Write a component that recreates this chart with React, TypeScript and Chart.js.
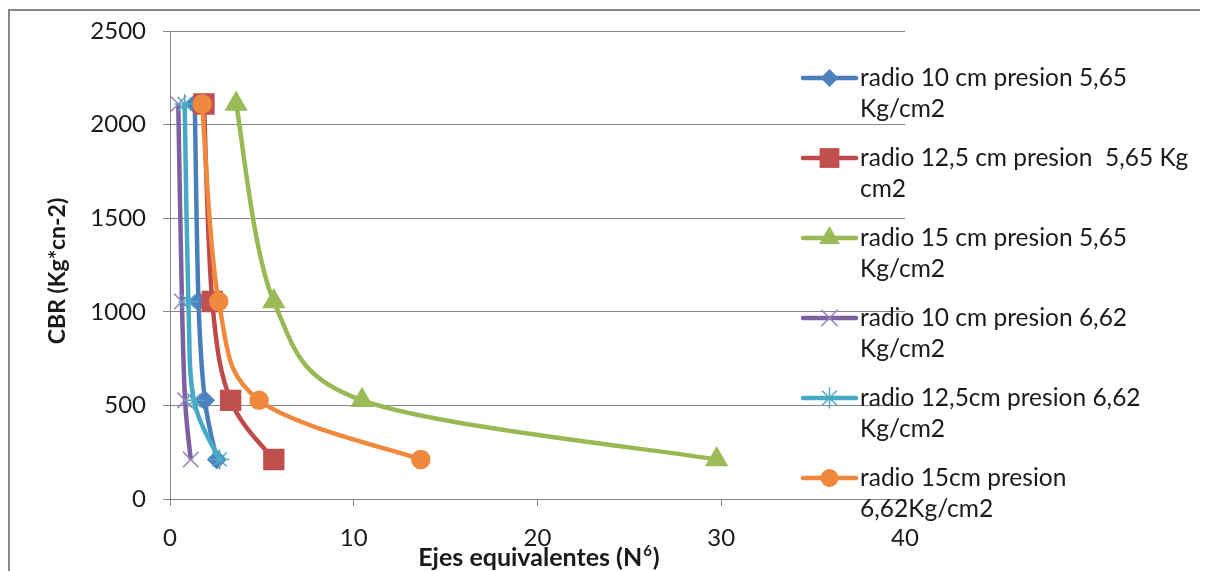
import { useEffect, useRef } from 'react';
import { Chart, registerables } from 'chart.js';

Chart.register(...registerables);

// CBR levels shared by every series (y values)
const cbrLevels = [2110, 1055, 527, 211];

// Equivalent axles (N^6) per series (x values)
const r10p565 = [1.35, 1.55, 1.9, 2.55];
const r125p565 = [1.85, 2.3, 3.3, 5.65];
const r15p565 = [3.6, 5.65, 10.45, 29.75];
const r10p662 = [0.45, 0.65, 0.82, 1.13];
const r125p662 = [0.8, 1.0, 1.3, 2.7];
const r15p662 = [1.75, 2.65, 4.85, 13.65];

const seriesLabels = [
  'radio 10 cm presion 5,65 Kg/cm2',
  'radio 12,5 cm presion  5,65 Kg cm2',
  'radio 15 cm presion 5,65 Kg/cm2',
  'radio 10 cm presion 6,62 Kg/cm2',
  'radio 12,5cm presion 6,62 Kg/cm2',
  'radio 15cm presion 6,62Kg/cm2',
];

// Legend text as it wraps in the legend box
const legendLines = [
  ['radio 10 cm presion 5,65', 'Kg/cm2'],
  ['radio 12,5 cm presion  5,65 Kg', 'cm2'],
  ['radio 15 cm presion 5,65', 'Kg/cm2'],
  ['radio 10 cm presion 6,62', 'Kg/cm2'],
  ['radio 12,5cm presion 6,62', 'Kg/cm2'],
  ['radio 15cm presion', '6,62Kg/cm2'],
];

const xTicks = [0, 10, 20, 30, 40];
const yTicks = [0, 500, 1000, 1500, 2000, 2500];

const xTitle = 'Ejes equivalentes (N';
const xTitleSup = '6';
const xTitleEnd = ')';
const yTitle = 'CBR (Kg*cn-2)';

const seriesX = [r10p565, r125p565, r15p565, r10p662, r125p662, r15p662];
const lineColors = ['#4A7EBB', '#BE4B48', '#98B954', '#7D60A0', '#46AAC5', '#F0893D'];
const markerColors = ['#4F81BD', '#C0504D', '#9BBB59', '#9580BA', '#4BACC6', '#F0893D'];
const markerStyles = ['rectRot', 'rect', 'triangle', 'crossRot', 'star', 'circle'];
const markerRadius = [9, 14, 12, 11, 10, 9];

const FONT = 'Lato, "DejaVu Sans", sans-serif';
const AXIS = '#868686';
const TEXT = '#1a1a1a';

const W = 1197;
const H = 580;

function drawMarker(ctx: CanvasRenderingContext2D, style: string, x: number, y: number, r: number, color: string) {
  ctx.save();
  ctx.fillStyle = color;
  ctx.strokeStyle = color;
  ctx.lineWidth = 1.5;
  ctx.beginPath();
  if (style === 'rectRot') {
    ctx.moveTo(x, y - r);
    ctx.lineTo(x + r, y);
    ctx.lineTo(x, y + r);
    ctx.lineTo(x - r, y);
    ctx.closePath();
    ctx.fill();
  } else if (style === 'rect') {
    const s = r * Math.SQRT1_2;
    ctx.rect(x - s, y - s, 2 * s, 2 * s);
    ctx.fill();
  } else if (style === 'triangle') {
    ctx.moveTo(x, y - r);
    ctx.lineTo(x + r * 0.866, y + r * 0.5);
    ctx.lineTo(x - r * 0.866, y + r * 0.5);
    ctx.closePath();
    ctx.fill();
  } else if (style === 'circle') {
    ctx.arc(x, y, r, 0, Math.PI * 2);
    ctx.fill();
  } else if (style === 'crossRot') {
    const d = r * Math.SQRT1_2;
    ctx.moveTo(x - d, y - d);
    ctx.lineTo(x + d, y + d);
    ctx.moveTo(x + d, y - d);
    ctx.lineTo(x - d, y + d);
    ctx.stroke();
  } else if (style === 'star') {
    const d = r * Math.SQRT1_2;
    ctx.moveTo(x - d, y - d);
    ctx.lineTo(x + d, y + d);
    ctx.moveTo(x + d, y - d);
    ctx.lineTo(x - d, y + d);
    ctx.moveTo(x, y - r);
    ctx.lineTo(x, y + r);
    ctx.stroke();
  }
  ctx.restore();
}

// Spreadsheet-style smoothing: Bezier handles of 1/6 of the neighbour chord,
// limited to half of the segment length.
const smoothLines = {
  id: 'smoothLines',
  beforeDatasetDraw(chart: any, args: any) {
    const meta = args.meta;
    const line = meta.dataset;
    if (!line || !line.updateControlPoints) return;
    line.updateControlPoints(chart.chartArea, meta.iScale.axis);
    const pts = meta.data;
    const n = pts.length;
    const dist = (a: any, b: any) => Math.hypot(b.x - a.x, b.y - a.y);
    for (let i = 0; i < n - 1; i++) {
      const p0 = pts[Math.max(i - 1, 0)];
      const p1 = pts[i];
      const p2 = pts[i + 1];
      const p3 = pts[Math.min(i + 2, n - 1)];
      const d12 = dist(p1, p2);
      const d02 = dist(p0, p2) || 1;
      const d13 = dist(p1, p3) || 1;
      const f1 = d02 / 6 < d12 / 2 ? 1 / 6 : d12 / (2 * d02);
      const f2 = d13 / 6 < d12 / 2 ? 1 / 6 : d12 / (2 * d13);
      p1.cp2x = p1.x + f1 * (p2.x - p0.x);
      p1.cp2y = p1.y + f1 * (p2.y - p0.y);
      p2.cp1x = p2.x - f2 * (p3.x - p1.x);
      p2.cp1y = p2.y - f2 * (p3.y - p1.y);
    }
    line._path = undefined;
  },
};

const overlay = {
  id: 'legendAndTitles',
  afterDraw(chart: any) {
    const ctx: CanvasRenderingContext2D = chart.ctx;
    ctx.save();

    // legend entries
    legendLines.forEach((lines, i) => {
      const y0 = 67 + i * 80;
      ctx.strokeStyle = lineColors[i];
      ctx.lineWidth = 4.5;
      ctx.lineCap = 'round';
      ctx.beginPath();
      ctx.moveTo(793, y0);
      ctx.lineTo(846, y0);
      ctx.stroke();
      drawMarker(ctx, markerStyles[i], 819.5, y0, markerRadius[i], markerColors[i]);
      ctx.fillStyle = TEXT;
      ctx.font = `24.5px ${FONT}`;
      ctx.textAlign = 'left';
      ctx.textBaseline = 'middle';
      lines.forEach((t, j) => ctx.fillText(t, 850, y0 + j * 31.5));
    });

    // y axis title
    ctx.save();
    ctx.translate(48, 260);
    ctx.rotate(-Math.PI / 2);
    ctx.font = `bold 23px ${FONT}`;
    ctx.textAlign = 'center';
    ctx.textBaseline = 'middle';
    ctx.fillStyle = TEXT;
    ctx.fillText(yTitle, 0, 0);
    ctx.restore();

    // x axis title with superscript
    const main = `bold 25px ${FONT}`;
    const sup = `bold 15px ${FONT}`;
    ctx.font = main;
    const w1 = ctx.measureText(xTitle).width;
    const w3 = ctx.measureText(xTitleEnd).width;
    ctx.font = sup;
    const w2 = ctx.measureText(xTitleSup).width;
    let x = 528 - (w1 + w2 + w3) / 2;
    const y = 547;
    ctx.textAlign = 'left';
    ctx.textBaseline = 'middle';
    ctx.fillStyle = TEXT;
    ctx.font = main;
    ctx.fillText(xTitle, x, y);
    x += w1;
    ctx.font = sup;
    ctx.fillText(xTitleSup, x + 1, y - 7);
    x += w2 + 2;
    ctx.font = main;
    ctx.fillText(xTitleEnd, x, y);

    ctx.restore();
  },
};

export default function App() {
  const ref = useRef<HTMLCanvasElement>(null);

  useEffect(() => {
    if (!ref.current) return;
    const datasets = seriesX.map((xs, i) => ({
      label: seriesLabels[i],
      data: xs.map((x, k) => ({ x, y: cbrLevels[k] })),
      borderColor: lineColors[i],
      backgroundColor: markerColors[i],
      borderWidth: 4.5,
      tension: 0.4,
      pointStyle: markerStyles[i] as any,
      pointRadius: markerRadius[i],
      pointBorderColor: markerColors[i],
      pointBackgroundColor: markerColors[i],
      pointBorderWidth: 1.5,
      order: 5 - i,
      showLine: true,
    }));

    const chart = new Chart(ref.current, {
      type: 'scatter',
      data: { datasets },
      options: {
        animation: false,
        responsive: false,
        devicePixelRatio: 1,
        layout: { padding: { left: 0, right: W - 895, top: 20, bottom: 0 } },
        plugins: { legend: { display: false }, tooltip: { enabled: false } },
        scales: {
          x: {
            type: 'linear',
            min: xTicks[0],
            max: xTicks[xTicks.length - 1],
            afterBuildTicks: (s: any) => { s.ticks = xTicks.map((v) => ({ value: v })); },
            afterFit: (s: any) => { s.height = H - 488; s.paddingLeft = 0; s.paddingRight = 0; },
            grid: { drawOnChartArea: false, drawTicks: true, tickLength: 7, color: AXIS },
            border: { color: AXIS, width: 1 },
            ticks: { color: TEXT, font: { family: FONT, size: 24 }, padding: 18, maxRotation: 0, callback: (v: any) => String(v) },
          },
          y: {
            type: 'linear',
            min: yTicks[0],
            max: yTicks[yTicks.length - 1],
            afterBuildTicks: (s: any) => { s.ticks = yTicks.map((v) => ({ value: v })); },
            afterFit: (s: any) => { s.width = 160; s.paddingTop = 0; s.paddingBottom = 0; },
            grid: { color: AXIS, tickLength: 7, lineWidth: 1 },
            border: { color: AXIS, width: 1 },
            ticks: { color: TEXT, font: { family: FONT, size: 24 }, padding: 17, callback: (v: any) => String(v) },
          },
        },
      },
      plugins: [smoothLines, overlay],
    });
    return () => chart.destroy();
  }, []);

  return (
    <div
      style={{
        position: 'relative',
        top: 1,
        width: 1200,
        height: 600,
        boxSizing: 'border-box',
        borderTop: `2px solid ${AXIS}`,
        borderLeft: `2px solid ${AXIS}`,
        borderRight: '1px solid #b0b0b0',
        background: '#fff',
      }}
    >
      <canvas ref={ref} width={W} height={H} style={{ display: 'block' }} />
    </div>
  );
}
